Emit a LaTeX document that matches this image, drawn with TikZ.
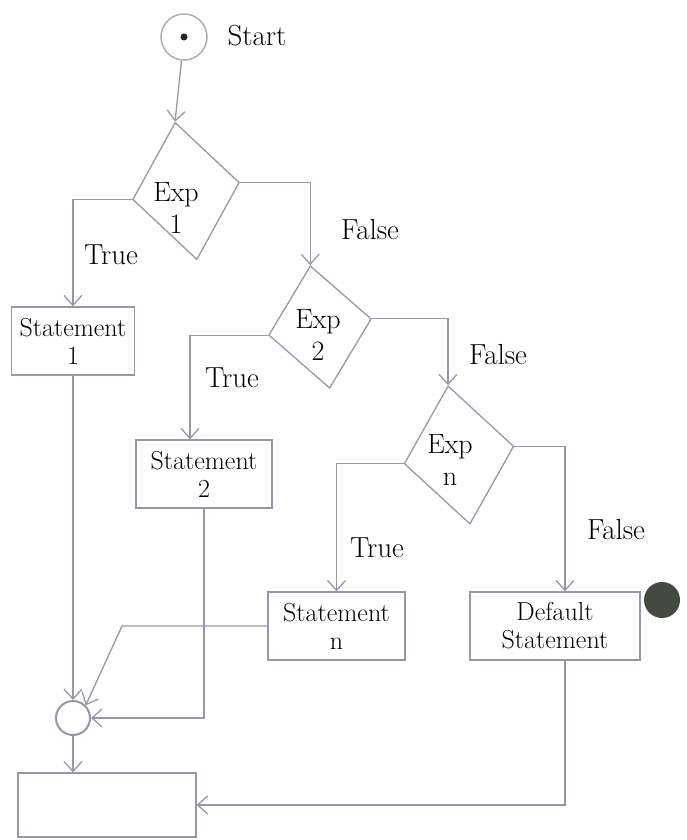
\documentclass[tikz,border=0pt]{standalone}
\usetikzlibrary{arrows.meta,shapes.geometric}
\definecolor{linegray}{RGB}{150,152,165}
\definecolor{blobcol}{RGB}{68,74,66}
\begin{document}
\begin{tikzpicture}[x=1pt,y=-1pt,
  conn/.style={draw=linegray, line width=1.3pt},
  arr/.style={conn, -{Straight Barb[length=10pt,width=18pt]}},
  stmt/.style={draw=linegray, line width=1.3pt, minimum height=68pt, inner sep=1pt, align=center, font=\fontsize{26}{28}\selectfont},
  decision/.style={diamond, draw=linegray, line width=1.3pt, rotate=9, inner sep=0pt},
  lbl/.style={font=\fontsize{29}{32}\selectfont},
  dectext/.style={align=center, font=\fontsize{28}{32}\selectfont}
]
\useasboundingbox (0,0) rectangle (687,840);

% start
\node[circle, draw=linegray!80, line width=1.5pt, minimum size=46pt, inner sep=0pt] (start) at (184,37) {};
\node[circle, fill=black!85, minimum size=7pt, inner sep=0pt] (dot) at (start) {};
\node[lbl, anchor=west] (starttxt) at (224,36) {Start};

% decisions
\node[decision, minimum width=108pt, minimum height=139pt] (d1) at (186,191) {};
\node[dectext] (d1t) at (176,208) {Exp\\1};
\node[decision, minimum width=104pt, minimum height=124pt] (d2) at (320,327) {};
\node[dectext] (d2t) at (318,335) {Exp\\2};
\node[decision, minimum width=111pt, minimum height=140pt] (dn) at (459,455) {};
\node[dectext] (dnt) at (450,460) {Exp\\n};

% statements
\node[stmt, minimum width=123pt] (s1) at (73,341) {Statement\\1};
\node[stmt, minimum width=136pt] (s2) at (204,474) {Statement\\2};
\node[stmt, minimum width=137pt] (sn) at (336.5,626) {Statement\\n};
\node[stmt, minimum width=170pt] (dd) at (555,626) {Default\\Statement};
\node[draw=linegray, line width=1.3pt, minimum width=178pt, minimum height=64pt] (end) at (107,805) {};

% merge
\node[circle, draw=linegray, line width=2pt, minimum size=34pt, inner sep=0pt] (m) at (73,718) {};

% blob
\node[circle, fill=blobcol, minimum size=36pt, inner sep=0pt] (blob) at (662,600) {};

% connectors
\draw[arr] (start) -- (d1.north);
\draw[arr] (d1.west) -| (s1.north);
\draw[arr] (d1.east) -| (d2.north);
\draw[arr] (d2.west) -| ([xshift=-14pt]s2.north);
\draw[arr] (d2.east) -| (dn.north);
\draw[arr] (dn.west) -| (sn.north);
\draw[arr] (dn.east) -| ([xshift=10pt]dd.north);
\draw[arr] (s1.south) -- (m.north);
\draw[arr] (s2.south) |- (m.east);
\coordinate (bend) at (122,626);
\draw[arr] (sn.west) -- (bend) -- (m.north east);
\draw[arr] ([xshift=10pt]dd.south) |- (end.east);
\draw[arr] (m.south) -- (m.south |- end.north);

% labels
\node[lbl] (t1) at (111,255) {True};
\node[lbl] (f1) at (370,230) {False};
\node[lbl] (t2) at (232,378) {True};
\node[lbl] (f2) at (498,355) {False};
\node[lbl] (t3) at (377,548) {True};
\node[lbl] (f3) at (616,530) {False};
\end{tikzpicture}
\end{document}
